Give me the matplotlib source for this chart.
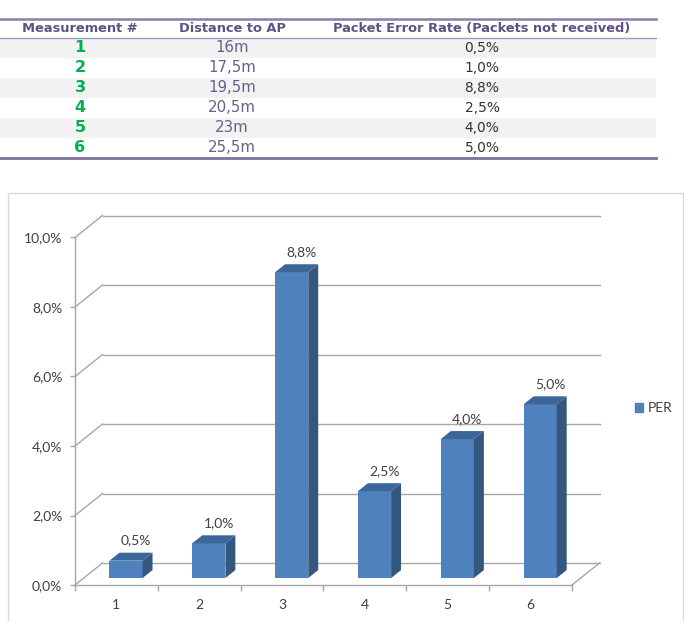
import numpy as np
import matplotlib
matplotlib.use('Agg')
import matplotlib.pyplot as plt
from matplotlib.patches import Rectangle, Patch

# table / chart data
measurements = ['1', '2', '3', '4', '5', '6']
distances = ['16m', '17,5m', '19,5m', '20,5m', '23m', '25,5m']
per_values = [0.5, 1.0, 8.8, 2.5, 4.0, 5.0]
headers = ['Measurement #', 'Distance to AP', 'Packet Error Rate (Packets not received)']
y_ticks = [0, 2, 4, 6, 8, 10]

W, H = 684, 621
fig = plt.figure(figsize=(W / 100, H / 100), dpi=100)
fig.patch.set_facecolor('white')

# ---- table at the top ----
ax_t = fig.add_axes([0, (H - 158) / H, 656 / W, 139 / H])
ax_t.set_xlim(0, 656)
ax_t.set_ylim(6.95, 0)
ax_t.axis('off')
for r in (1, 3, 5):
    ax_t.axhspan(r - 0.05, r + 0.95, color='#F2F2F2', lw=0)
ax_t.axhline(0, color='#8A7DAA', lw=1.8, clip_on=False)
ax_t.axhline(0.95, color='#A59BC0', lw=1, clip_on=False)
ax_t.axhline(6.95, color='#7D6FA0', lw=2, clip_on=False)

col_x = [80, 232, 482]
for cx, h in zip(col_x, headers):
    ax_t.text(cx, 0.47, h, ha='center', va='center', fontsize=9.4,
              fontweight='bold', color='#5E5283', family='DejaVu Sans')
for i in range(len(measurements)):
    yc = i + 1.45
    ax_t.text(col_x[0], yc, measurements[i], ha='center', va='center',
              fontsize=11.5, fontweight='bold', color='#00B050', family='DejaVu Sans')
    ax_t.text(col_x[1], yc, distances[i], ha='center', va='center',
              fontsize=10.8, color='#67608A', family='DejaVu Sans')
    ax_t.text(col_x[2], yc, f'{per_values[i]:.1f}%'.replace('.', ','), ha='center',
              va='center', fontsize=9.9, color='#333333', family='DejaVu Sans')

# ---- chart frame ----
fig.add_artist(Rectangle((8 / W, -0.01), (675 / W), (H - 193) / H + 0.01,
                         transform=fig.transFigure, fill=False,
                         edgecolor='#D9D9D9', lw=1))

# ---- 3d-look column chart ----
chart_font = 'Lato'
ax = fig.add_axes([75 / W, 36 / H, 497 / W, 347.5 / H])
ax.set_xlim(0.5, 6.5)
ax.set_ylim(0, 10)
ax.set_facecolor('none')

DX, DY = 0.332, 0.633          # depth of the back wall in data units
grid_c = '#A6A6A6'
for v in y_ticks:
    ax.plot([0.5 + DX, 6.5 + DX], [v + DY, v + DY], color=grid_c, lw=1,
            clip_on=False, zorder=1)
    ax.plot([0.5, 0.5 + DX], [v, v + DY], color=grid_c, lw=1, clip_on=False, zorder=1)
ax.plot([6.5, 6.5 + DX], [0, DY], color=grid_c, lw=1, clip_on=False, zorder=1)

x = np.arange(1, len(per_values) + 1)
vals = np.array(per_values)
shift, bw, base = 0.116, 0.4, 0.2
sdx, sdy = 0.12, 0.23
front_c, side_c, top_c = '#4F81BD', '#34577F', '#3C6698'
ax.bar(x + shift, vals, width=bw, bottom=base, color=front_c, zorder=3, clip_on=False)
for xi, v in zip(x, vals):
    l, r = xi + shift - bw / 2, xi + shift + bw / 2
    t = base + v
    ax.fill([r, r + sdx, r + sdx, r], [base, base + sdy, t + sdy, t],
            color=side_c, lw=0, zorder=3, clip_on=False)
    ax.fill([l, r, r + sdx, l + sdx], [t, t, t + sdy, t + sdy],
            color=top_c, lw=0, zorder=3, clip_on=False)
    ax.text(xi + shift + 0.12, t + sdy + 0.35, f'{v:.1f}%'.replace('.', ','),
            ha='center', va='center', fontsize=10, color='#404040',
            family=chart_font, zorder=4)

for s in ('top', 'right'):
    ax.spines[s].set_visible(False)
for s in ('left', 'bottom'):
    ax.spines[s].set_color(grid_c)
    ax.spines[s].set_linewidth(1)

ax.set_yticks(y_ticks)
ax.set_yticklabels([f'{v:.1f}%'.replace('.', ',') for v in y_ticks],
                   fontsize=10, color='#404040', family=chart_font)
ax.tick_params(axis='y', length=3.6, width=1, color=grid_c, pad=5.5)

ax.set_xticks(np.arange(0.5, 7.0, 1.0))
ax.set_xticklabels([])
ax.set_xticks(x, minor=True)
ax.set_xticklabels(measurements, minor=True, fontsize=10, color='#404040',
                   family=chart_font)
ax.tick_params(axis='x', which='major', length=4.5, width=1, color=grid_c)
ax.tick_params(axis='x', which='minor', length=0, pad=10)

fig.legend(handles=[Patch(color=front_c, label='PER')], loc='center left',
           bbox_to_anchor=(622 / W, 1 - 408 / H), frameon=False,
           handlelength=0.6, handleheight=0.6, handletextpad=0.35,
           prop={'family': chart_font, 'size': 10}, labelcolor='#404040')

fig.savefig('out.png', dpi=100, facecolor='white')
